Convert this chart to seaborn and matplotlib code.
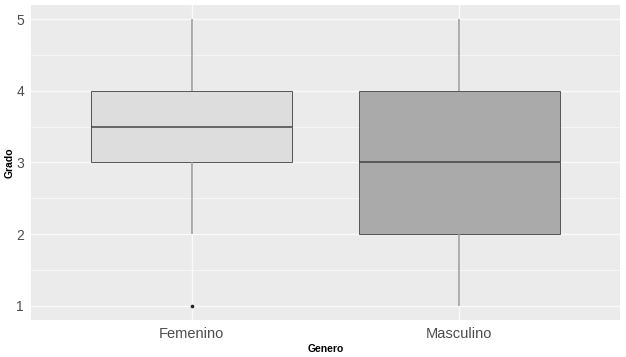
import matplotlib
matplotlib.use("Agg")
import matplotlib.pyplot as plt
import seaborn as sns
import pandas as pd
from matplotlib.ticker import MultipleLocator

# survey answers per group (read so the box stats match the picture)
femenino = [1, 2, 3, 3, 3, 4, 4, 4, 4, 5]
masculino = [1, 2, 2, 3, 3, 3, 4, 4, 5]
categories = ["Femenino", "Masculino"]
fill_colors = ["#DDDDDD", "#AAAAAA"]

df = pd.DataFrame({
    "Genero": ["Femenino"] * len(femenino) + ["Masculino"] * len(masculino),
    "Grado": femenino + masculino,
})

sns.set_theme(style="darkgrid", rc={
    "axes.facecolor": "#EBEBEB",
    "grid.color": "white",
})
plt.rcParams["font.family"] = ["Liberation Sans", "DejaVu Sans"]

fig = plt.figure(figsize=(6.26, 3.57), dpi=100)
ax = fig.add_axes([31 / 626, 37 / 357, 589 / 626, 315 / 357])

sns.boxplot(data=df, x="Genero", y="Grado", hue="Genero", order=categories,
            hue_order=categories, palette=fill_colors, width=0.75, ax=ax,
            legend=False, linecolor="#555555", linewidth=0.7, showcaps=False,
            whiskerprops=dict(color="#999999", linewidth=1.1),
            medianprops=dict(color="#444444", linewidth=1.1),
            flierprops=dict(marker="o", markersize=1.6, markerfacecolor="#222222",
                            markeredgecolor="#222222"))

ax.set_xlim(-0.6, 1.6)
ax.set_ylim(0.8, 5.2)
ax.yaxis.set_major_locator(MultipleLocator(1))
ax.yaxis.set_minor_locator(MultipleLocator(0.5))
ax.grid(which="major", color="white", linewidth=0.9, alpha=0.8)
ax.grid(which="minor", axis="y", color="white", linewidth=0.5, alpha=0.8)
ax.set_axisbelow(True)
for s in ax.spines.values():
    s.set_visible(False)

ax.tick_params(axis="both", which="major", length=3, width=0.6, color="#555555",
               labelcolor="#4D4D4D", labelsize=10.5, pad=2)
ax.tick_params(axis="y", which="major", labelsize=10)
ax.tick_params(axis="both", which="minor", length=0)
ax.set_xlabel("Genero", fontsize=7.5, fontweight="bold", color="black", labelpad=2)
ax.set_ylabel("Grado", fontsize=7.5, fontweight="bold", color="black")
ax.yaxis.set_label_coords(-0.027, 0.5)

fig.savefig("out.png", dpi=100)
